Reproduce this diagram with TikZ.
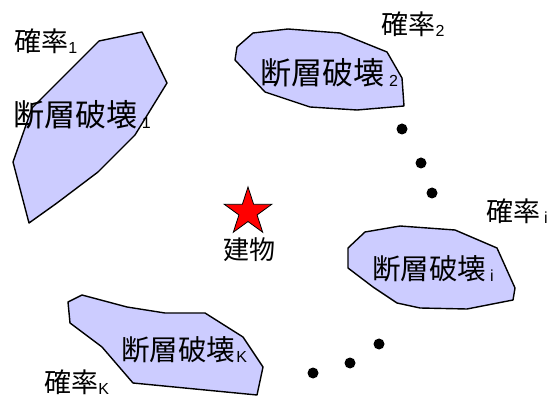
\documentclass[tikz,border=0pt]{standalone}
\usepackage{fontspec}
\setmainfont{Liberation Sans}
\newfontfamily\cjk{Noto Sans CJK JP}
\usetikzlibrary{shapes.geometric}
\definecolor{lav}{RGB}{204,204,255}
\tikzset{
  fault/.style={draw=black, fill=lav, line width=1.4pt, line join=round},
  lbl/.style={anchor=base west, inner sep=0pt, outer sep=0pt},
  dotnode/.style={circle, fill=black, inner sep=0pt, minimum size=11pt},
}
\newcommand{\subsc}[2]{\hspace{#1}\raisebox{-2pt}[0pt][0pt]{\fontsize{16}{16}\selectfont #2}}
\newcommand{\bigT}[1]{{\fontsize{31}{31}\selectfont\cjk #1}}
\newcommand{\midT}[1]{{\fontsize{28.5}{28.5}\selectfont\cjk #1}}
\newcommand{\smT}[1]{{\fontsize{27}{27}\selectfont\cjk #1}}
\begin{document}
\begin{tikzpicture}[x=1pt,y=-1pt]
\useasboundingbox (0,0) rectangle (552,398);
% fault zones
\draw[fault] (99,41) -- (142,32) -- (167,83) -- (135,135) -- (98,172) -- (57,203) -- (29,223) -- (13,162) -- (32,108) -- cycle;
\draw[fault] (253,33) -- (288,29) -- (340,33) -- (387,52) -- (402,78) -- (404,106) -- (357,110) -- (310,107) -- (265,92) -- (235,60) -- (237,47) -- cycle;
\draw[fault] (365,232) -- (400,226) -- (455,230) -- (497,248) -- (515,288) -- (513,300) -- (467,309) -- (420,308) -- (397,303) -- (373,287) -- (348,268) -- (348,248) -- cycle;
\draw[fault] (82,295) -- (127,307) -- (165,313) -- (205,313) -- (243,337) -- (263,367) -- (257,395) -- (133,383) -- (102,347) -- (70,323) -- (68,302) -- cycle;
% labels
\node[lbl] (p1) at (14,51.8) {\smT{確率}\subsc{0.5pt}{1}};
\node[lbl] (f1) at (13,126.8) {\bigT{断層破壊}\subsc{5pt}{1}};
\node[lbl] (p2) at (381,34.8) {\smT{確率}\subsc{0.5pt}{2}};
\node[lbl] (f2) at (260,84.3) {\bigT{断層破壊}\subsc{5pt}{2}};
\node[lbl] (pi) at (486,221.8) {\smT{確率}\subsc{4pt}{i}};
\node[lbl] (fi) at (372,279.3) {\midT{断層破壊}\subsc{4pt}{i}};
\node[lbl] (fk) at (121,360.8) {\midT{断層破壊}\subsc{1.5pt}{K}};
\node[lbl] (pk) at (44,392) {\smT{確率}\subsc{0.5pt}{K}};
% building
\node[star, star points=5, star point ratio=2.618, fill=red, draw=black, line width=0.8pt, minimum size=50pt, inner sep=0pt] (bld) at (248,212) {};
\node[anchor=base, inner sep=0pt] (bldl) at (249,260) {{\fontsize{26}{26}\selectfont\cjk 建物}};
% dots
\node[dotnode] (d1) at (402,129) {};
\node[dotnode] (d2) at (421,163) {};
\node[dotnode] (d3) at (432,193) {};
\node[dotnode] (d4) at (313,373) {};
\node[dotnode] (d5) at (350,363) {};
\node[dotnode] (d6) at (379,344) {};
\end{tikzpicture}
\end{document}
